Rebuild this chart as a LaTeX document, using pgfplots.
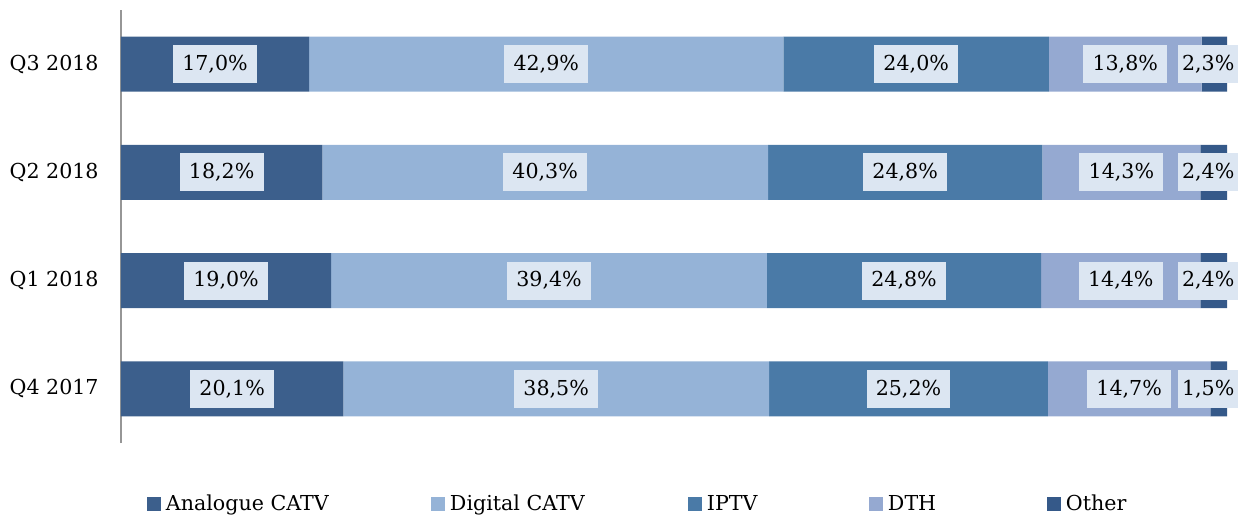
\documentclass[border=0pt]{standalone}
\usepackage{pgfplots}
\pgfplotsset{compat=1.18}
\usepackage{fontspec}
\setmainfont{DejaVu Serif}
\definecolor{cA}{RGB}{60,95,140}
\definecolor{cB}{RGB}{149,179,215}
\definecolor{cC}{RGB}{74,122,167}
\definecolor{cD}{RGB}{149,169,209}
\definecolor{cE}{RGB}{53,89,137}
\definecolor{lab}{RGB}{220,230,242}
\definecolor{axg}{RGB}{150,150,150}
\newcommand{\f}{\fontsize{10.3pt}{12pt}\selectfont}
\begin{document}
\begin{tikzpicture}
\begin{axis}[
  at={(0pt,0pt)}, anchor=south west,
  scale only axis, width=553pt, height=216.5pt,
  xmin=0, xmax=100, ymin=-0.5, ymax=3.5,
  xbar stacked, bar width=27.5pt,
  axis x line=none, axis y line*=left,
  y axis line style={-, draw=axg, line width=0.6pt},
  xtick=\empty,
  ytick={0,1,2,3},
  yticklabels={Q4 2017,Q1 2018,Q2 2018,Q3 2018},
  major tick length=0pt,
  yticklabel style={font=\f, inner sep=0pt, xshift=-11pt},
  legend columns=5,
  legend image code/.code={\path[#1,draw=none] (0pt,-3.5pt) rectangle (7pt,3.5pt);},
  legend style={at={(axis description cs:0.0235,-0.1409)}, anchor=west,
    draw=none, fill=none, inner sep=0pt, outer sep=0pt,
    nodes={inner sep=0pt, font=\f},
    /tikz/every odd column/.append style={column sep=2.5pt},
    /tikz/every even column/.append style={column sep=0pt}},
  legend cell align=left,
]
\addplot[fill=cA, draw=none] coordinates {(20.1,0) (19.0,1) (18.2,2) (17.0,3)};
\addlegendentry{\makebox[132.5pt][l]{Analogue CATV}}
\addplot[fill=cB, draw=none] coordinates {(38.5,0) (39.4,1) (40.3,2) (42.9,3)};
\addlegendentry{\makebox[119pt][l]{Digital CATV}}
\addplot[fill=cC, draw=none] coordinates {(25.2,0) (24.8,1) (24.8,2) (24.0,3)};
\addlegendentry{\makebox[81pt][l]{IPTV}}
\addplot[fill=cD, draw=none] coordinates {(14.7,0) (14.4,1) (14.3,2) (13.8,3)};
\addlegendentry{\makebox[79.5pt][l]{DTH}}
\addplot[fill=cE, draw=none] coordinates {(1.5,0) (2.4,1) (2.4,2) (2.3,3)};
\addlegendentry{Other}
\end{axis}
\begin{axis}[
  at={(0pt,0pt)}, anchor=south west,
  scale only axis, width=553pt, height=216.5pt,
  xmin=0, xmax=100, ymin=-0.5, ymax=3.5,
  hide axis, clip=false,
]
\addplot[draw=none, mark=none, nodes near coords={\pgfplotspointmeta\%},
  point meta=explicit symbolic, nodes near coords align=center,
  every node near coord/.append style={anchor=center, font=\f, fill=lab, text=black,
    inner xsep=4.6pt, inner ysep=0pt, minimum height=19pt}]
table[meta=lbl] {
x y lbl
8.5 3 17,0
38.45 3 42,9
71.9 3 24,0
90.8 3 13,8
9.1 2 18,2
38.35 2 40,3
70.9 2 24,8
90.45 2 14,3
9.5 1 19,0
38.7 1 39,4
70.8 1 24,8
90.4 1 14,4
10.05 0 20,1
39.35 0 38,5
71.2 0 25,2
91.15 0 14,7
};
\addplot[draw=none, mark=none, nodes near coords={\pgfplotspointmeta\%},
  point meta=explicit symbolic, nodes near coords align=center,
  every node near coord/.append style={anchor=center, font=\f, fill=lab, text=black,
    inner xsep=2pt, inner ysep=0pt, minimum height=19pt}]
table[meta=lbl] {
x y lbl
98.3 3 2,3
98.3 2 2,4
98.3 1 2,4
98.3 0 1,5
};
\end{axis}
\pgfresetboundingbox
\path (-60.5pt,-36.5pt) rectangle (561.5pt,221.5pt);
\end{tikzpicture}
\end{document}
